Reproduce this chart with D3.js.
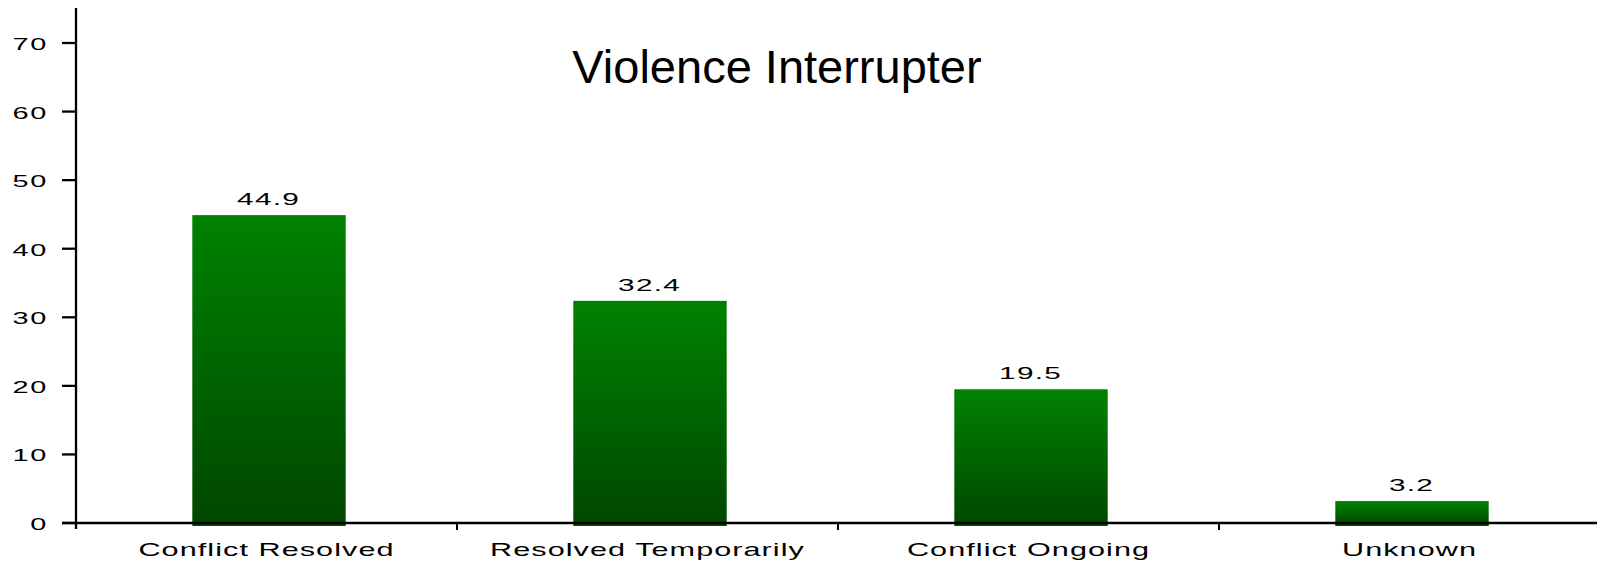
<!DOCTYPE html>
<html>
<head>
<meta charset="utf-8">
<script src="https://cdn.jsdelivr.net/npm/d3@7"></script>
<style>
  body { margin: 0; background: #fff; }
  text { font-family: "Liberation Sans", Arial, sans-serif; fill: #000; }
</style>
</head>
<body>
<div id="datavis"></div>
<script>
// data
let categories = ["Conflict Resolved", "Resolved Temporarily", "Conflict Ongoing", "Unknown"]
let values = [44.9, 32.4, 19.5, 3.2]
let yTicks = [0, 10, 20, 30, 40, 50, 60, 70]
let title = "Violence Interrupter"

let width = 1597,
    height = 563

let svg = d3.select('#datavis')
  .append('svg')
    .attr('width', width)
    .attr('height', height)

// gradient for the bars
let grad = svg.append('defs')
  .append('linearGradient')
    .attr('id', 'barGrad')
    .attr('x1', 0).attr('y1', 0)
    .attr('x2', 0).attr('y2', 1)
grad.append('stop').attr('offset', '0%').attr('stop-color', '#008200')
grad.append('stop').attr('offset', '100%').attr('stop-color', '#004700')

// scales
let x = d3.scaleBand()
  .domain(categories)
  .range([76, 1600])
  .paddingInner(0.6)
  .paddingOuter(0.3)

let y = d3.scaleLinear()
  .domain([0, 70])
  .range([523, 43])

// text is drawn squeezed then stretched sideways, like the original
let stretch = 1.75

// title
svg.append('text')
  .attr('x', 777)
  .attr('y', 83)
  .attr('text-anchor', 'middle')
  .style('font-size', '47px')
  .text(title)

// bars
svg.selectAll('rect.bar')
  .data(values)
  .enter()
  .append('rect')
    .attr('class', 'bar')
    .attr('x', (d, i) => x(categories[i]) + 2)
    .attr('y', d => y(d))
    .attr('width', x.bandwidth() + 1)
    .attr('height', d => y(0) - y(d) + 3)
    .attr('fill', 'url(#barGrad)')

// value labels
svg.selectAll('text.val')
  .data(values)
  .enter()
  .append('text')
    .attr('class', 'val')
    .attr('transform', (d, i) => `translate(${x(categories[i]) + x.bandwidth() / 2 + 2},${y(d) - 10}) scale(${stretch},1)`)
    .attr('text-anchor', 'middle')
    .style('font-size', '17px')
    .style('letter-spacing', '0.7px')
    .text(d => d.toFixed(1))

// y axis
svg.append('line')
  .attr('x1', 76).attr('x2', 76)
  .attr('y1', 8).attr('y2', 529)
  .attr('stroke', '#000').attr('stroke-width', 2.3)

svg.selectAll('line.ytick')
  .data(yTicks)
  .enter()
  .append('line')
    .attr('class', 'ytick')
    .attr('x1', 62).attr('x2', 76)
    .attr('y1', d => y(d)).attr('y2', d => y(d))
    .attr('stroke', '#000').attr('stroke-width', 2.3)

svg.selectAll('text.ylab')
  .data(yTicks)
  .enter()
  .append('text')
    .attr('class', 'ylab')
    .attr('transform', d => `translate(48,${y(d) + 7}) scale(${stretch},1)`)
    .attr('text-anchor', 'end')
    .style('font-size', '16.5px')
    .style('letter-spacing', '1px')
    .text(d => d)

// x axis
svg.append('line')
  .attr('x1', 62).attr('x2', width)
  .attr('y1', y(0)).attr('y2', y(0))
  .attr('stroke', '#000').attr('stroke-width', 2.3)

let bounds = d3.range(1, categories.length).map(i => x.range()[0] + i * x.step())
svg.selectAll('line.xtick')
  .data(bounds)
  .enter()
  .append('line')
    .attr('class', 'xtick')
    .attr('x1', d => d).attr('x2', d => d)
    .attr('y1', y(0)).attr('y2', y(0) + 7)
    .attr('stroke', '#000').attr('stroke-width', 2)

svg.selectAll('text.xlab')
  .data(categories)
  .enter()
  .append('text')
    .attr('class', 'xlab')
    .attr('transform', d => `translate(${x(d) + x.bandwidth() / 2},556) scale(${stretch},1)`)
    .attr('text-anchor', 'middle')
    .style('font-size', '17.5px')
    .style('letter-spacing', '0.6px')
    .text(d => d)
</script>
</body>
</html>
